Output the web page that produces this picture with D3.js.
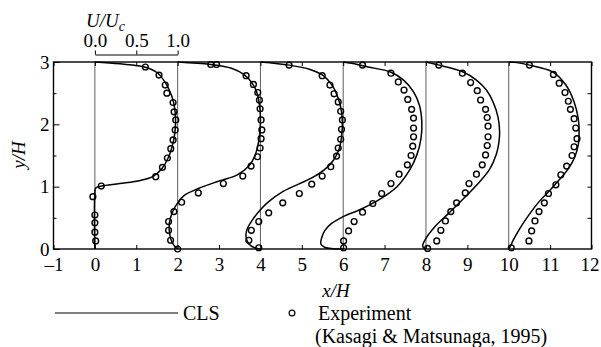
<!DOCTYPE html>
<html>
<head>
<meta charset="utf-8">
<script src="https://cdn.jsdelivr.net/npm/d3@7"></script>
<style>
  body { margin: 0; background: #fff; }
  svg, svg text { font-family: "Liberation Serif", "DejaVu Serif", serif; }
  svg { display: block; }
  .it { font-style: italic; }
</style>
</head>
<body>
<div id="chart"></div>
<script>
// stations along the channel (x/H); each profile is drawn as station + 2*U/Uc
var stations = [0, 2, 4, 6, 8, 10];

// tick labels
var xTickValues = [-1, 0, 1, 2, 3, 4, 5, 6, 7, 8, 9, 10, 11, 12];
var yTickValues = [0, 1, 2, 3];
var uTickValues = [0, 0.5, 1.0];

// CLS curves: [U/Uc, y/H]
var cls0 = [[0,3],[0.3,2.97],[0.6,2.92],[0.76,2.82],[0.86,2.65],[0.93,2.45],[0.965,2.25],[0.975,2.05],[0.965,1.85],[0.935,1.65],[0.885,1.46],[0.81,1.29],[0.71,1.17],[0.55,1.1],[0.3,1.05],[0.08,1.01],[0.01,0.98],[0,0.9],[0,0]];
var cls2 = [[0,3],[0.4,2.96],[0.65,2.9],[0.8,2.8],[0.9,2.66],[0.96,2.5],[0.99,2.3],[1.0,2.1],[0.995,1.9],[0.975,1.7],[0.935,1.5],[0.86,1.33],[0.72,1.19],[0.5,1.09],[0.25,0.97],[0.08,0.86],[0,0.74],[-0.06,0.6],[-0.1,0.42],[-0.1,0.28],[-0.08,0.15],[-0.04,0.05],[0,0]];
var cls4 = [[0,3],[0.35,2.95],[0.6,2.88],[0.76,2.78],[0.87,2.62],[0.94,2.42],[0.98,2.2],[0.99,2.0],[0.98,1.8],[0.95,1.6],[0.88,1.42],[0.77,1.27],[0.62,1.14],[0.46,1.04],[0.27,0.92],[0.1,0.76],[0,0.63],[-0.1,0.46],[-0.16,0.32],[-0.175,0.2],[-0.14,0.08],[-0.07,0.02],[0,0]];
var cls6 = [[0,3],[0.1,2.98],[0.3,2.92],[0.57,2.84],[0.73,2.71],[0.85,2.52],[0.92,2.31],[0.95,2.04],[0.94,1.77],[0.89,1.51],[0.8,1.26],[0.65,1.0],[0.42,0.78],[0.2,0.63],[0,0.52],[-0.14,0.41],[-0.22,0.3],[-0.26,0.18],[-0.27,0.08],[-0.22,0.025],[-0.12,0.005],[0,0]];
var cls8 = [[0,3],[0.16,2.95],[0.45,2.84],[0.61,2.71],[0.73,2.55],[0.81,2.36],[0.87,2.12],[0.89,1.88],[0.88,1.7],[0.85,1.52],[0.77,1.28],[0.63,1.05],[0.47,0.83],[0.28,0.58],[0.11,0.36],[0,0.17],[-0.04,0.05],[-0.02,0.01],[0,0]];
var cls10 = [[0,3],[0.1,2.99],[0.25,2.95],[0.53,2.84],[0.69,2.63],[0.79,2.36],[0.84,2.09],[0.85,1.88],[0.84,1.67],[0.79,1.45],[0.71,1.27],[0.61,1.11],[0.49,0.93],[0.38,0.78],[0.24,0.54],[0.13,0.32],[0.05,0.13],[0.02,0.04],[0,0]];

// experiment (Kasagi & Matsunaga, 1995): [U/Uc, y/H]
var exp0 = [[0.61,2.92],[0.775,2.79],[0.85,2.63],[0.87,2.5],[0.945,2.35],[0.957,2.2],[0.977,2.07],[0.97,1.91],[0.945,1.75],[0.917,1.61],[0.876,1.46],[0.816,1.31],[0.735,1.16],[0.077,1.01],[-0.024,0.84],[0,0.545],[0,0.42],[0,0.27],[0.01,0.13]];
var exp2 = [[0.40,2.96],[0.47,2.96],[0.827,2.78],[0.915,2.64],[0.968,2.51],[0.988,2.39],[0.996,2.25],[1.008,2.07],[1.017,1.91],[1.008,1.77],[0.996,1.62],[0.964,1.48],[0.887,1.33],[0.787,1.17],[0.552,1.05],[0.25,0.90],[0.048,0.75],[-0.045,0.60],[-0.11,0.44],[-0.11,0.30],[-0.085,0.14],[0,0]];
var exp4 = [[0.346,2.95],[0.746,2.78],[0.84,2.63],[0.89,2.49],[0.94,2.36],[0.97,2.21],[0.99,2.07],[0.98,1.92],[0.97,1.76],[0.94,1.62],[0.92,1.49],[0.85,1.32],[0.746,1.17],[0.62,1.04],[0.47,0.89],[0.27,0.74],[0.10,0.58],[-0.02,0.44],[-0.11,0.30],[-0.14,0.14],[-0.02,0.02]];
var exp6 = [[0.234,2.95],[0.577,2.82],[0.666,2.68],[0.735,2.55],[0.78,2.40],[0.827,2.24],[0.85,2.10],[0.85,1.94],[0.85,1.80],[0.84,1.65],[0.82,1.50],[0.775,1.35],[0.675,1.20],[0.577,1.05],[0.465,0.89],[0.358,0.73],[0.234,0.59],[0.132,0.44],[0.065,0.29],[0.005,0.13],[0.005,0.02]];
var exp8 = [[0.155,2.95],[0.44,2.82],[0.54,2.67],[0.62,2.54],[0.66,2.39],[0.72,2.24],[0.74,2.11],[0.75,1.97],[0.75,1.80],[0.74,1.66],[0.72,1.51],[0.68,1.35],[0.61,1.20],[0.52,1.05],[0.475,0.90],[0.37,0.74],[0.30,0.60],[0.235,0.45],[0.18,0.30],[0.13,0.13],[0.02,0.01]];
var exp10 = [[0.25,2.95],[0.54,2.80],[0.61,2.66],[0.68,2.51],[0.72,2.37],[0.745,2.24],[0.79,2.09],[0.81,1.94],[0.825,1.77],[0.79,1.64],[0.765,1.50],[0.70,1.33],[0.63,1.19],[0.57,1.03],[0.48,0.89],[0.43,0.74],[0.366,0.60],[0.317,0.45],[0.277,0.29],[0.244,0.13],[0.03,0.02]];

var clsCurves = [cls0, cls2, cls4, cls6, cls8, cls10];
var expPoints = [exp0, exp2, exp4, exp6, exp8, exp10];

var W = 601, H = 347;
var svg = d3.select("#chart").append("svg")
  .attr("width", W).attr("height", H);

var x = d3.scaleLinear().domain([-1, 12]).range([53.5, 591.5]);
var y = d3.scaleLinear().domain([0, 3]).range([249, 62]);

// velocity scale: U/Uc from 0 to 1 spans two x/H units
var u = d3.scaleLinear().domain([0, 1]).range([x(0), x(2)]);

var profiles = stations.map(function(s, i) {
  return {station: s, cls: clsCurves[i], exp: expPoints[i]};
});

// station reference lines
svg.append("g").selectAll("line")
  .data(stations)
  .enter().append("line")
  .attr("x1", function(d) { return x(d); })
  .attr("x2", function(d) { return x(d); })
  .attr("y1", y(0)).attr("y2", y(3))
  .attr("stroke", "#333")
  .attr("stroke-width", 0.8);

// CLS lines
var line = d3.line()
  .curve(d3.curveCatmullRom.alpha(0.5));

svg.append("g").selectAll("path")
  .data(profiles)
  .enter().append("path")
  .attr("d", function(p) {
    return line(p.cls.map(function(d) { return [x(p.station + 2 * d[0]), y(d[1])]; }));
  })
  .attr("fill", "none")
  .attr("stroke", "#000")
  .attr("stroke-width", 1.5);

// experiment circles
profiles.forEach(function(p) {
  svg.append("g").selectAll("circle")
    .data(p.exp)
    .enter().append("circle")
    .attr("cx", function(d) { return x(p.station + 2 * d[0]); })
    .attr("cy", function(d) { return y(d[1]); })
    .attr("r", 2.9)
    .attr("fill", "none")
    .attr("stroke", "#000")
    .attr("stroke-width", 1.4);
});

// frame
svg.append("rect")
  .attr("x", x(-1)).attr("y", y(3))
  .attr("width", x(12) - x(-1)).attr("height", y(0) - y(3))
  .attr("fill", "none").attr("stroke", "#000").attr("stroke-width", 1.4);

// axis text in serif, like the print
function serif(g) {
  g.attr("font-family", null).attr("font-size", null);
  g.selectAll("text").style("font-size", "19px").attr("fill", "#000");
}

// bottom axis, ticks inside
var xAxis = svg.append("g")
  .attr("transform", "translate(0," + y(0) + ")")
  .call(d3.axisBottom(x).tickValues(xTickValues).tickSize(-4).tickPadding(9)
    .tickFormat(function(d) { return d < 0 ? "\u2013" + (-d) : d; }))
  .call(serif);
xAxis.select(".domain").remove();
xAxis.selectAll("text").filter(function(d) { return d === 12; }).attr("dx", -2);

// top axis ticks only
var xTop = svg.append("g")
  .attr("transform", "translate(0," + y(3) + ")")
  .call(d3.axisTop(x).tickValues(xTickValues).tickSize(-4).tickFormat(""));
xTop.select(".domain").remove();

// left axis
var yAxis = svg.append("g")
  .attr("transform", "translate(" + x(-1) + ",0)")
  .call(d3.axisLeft(y).tickValues(yTickValues).tickSize(-6).tickPadding(4)
    .tickFormat(d3.format("d")))
  .call(serif);
yAxis.select(".domain").remove();

var yMinor = svg.append("g")
  .attr("transform", "translate(" + x(-1) + ",0)")
  .call(d3.axisLeft(y).tickValues([0.5, 1.5, 2.5]).tickSize(-3).tickFormat(""));
yMinor.select(".domain").remove();

// right axis ticks
var yRight = svg.append("g")
  .attr("transform", "translate(" + x(12) + ",0)")
  .call(d3.axisRight(y).tickValues([0.5, 1, 1.5, 2, 2.5]).tickSize(-4).tickFormat(""));
yRight.select(".domain").remove();

// velocity scale bar above the plot
var uAxis = svg.append("g")
  .attr("transform", "translate(0,54.5)")
  .call(d3.axisTop(u).tickValues(uTickValues).tickSize(4).tickSizeOuter(0)
    .tickPadding(4).tickFormat(d3.format(".1f")))
  .call(serif);
uAxis.select(".domain").attr("stroke-width", 1);

var uLabel = svg.append("text")
  .attr("x", 86).attr("y", 27)
  .attr("class", "it")
  .style("font-size", "19px");
uLabel.append("tspan").text("U/U");
uLabel.append("tspan").attr("dy", 4).style("font-size", "14px").text("c");

// axis titles
svg.append("text")
  .attr("class", "it")
  .attr("x", 336).attr("y", 297)
  .attr("text-anchor", "middle")
  .style("font-size", "19px")
  .text("x/H");

svg.append("text")
  .attr("class", "it")
  .attr("transform", "translate(25,155) rotate(-90)")
  .attr("text-anchor", "middle")
  .style("font-size", "19px")
  .text("y/H");

// legend
var legend = svg.append("g");
legend.append("line")
  .attr("x1", 55).attr("x2", 178)
  .attr("y1", 313).attr("y2", 313)
  .attr("stroke", "#000").attr("stroke-width", 1.2);
legend.append("text")
  .attr("x", 183).attr("y", 320)
  .style("font-size", "20px")
  .text("CLS");
legend.append("circle")
  .attr("cx", 292).attr("cy", 313).attr("r", 2.9)
  .attr("fill", "none").attr("stroke", "#000").attr("stroke-width", 1.2);
legend.append("text")
  .attr("x", 318).attr("y", 320)
  .style("font-size", "20px")
  .text("Experiment");
legend.append("text")
  .attr("x", 315).attr("y", 343)
  .style("font-size", "20px")
  .text("(Kasagi & Matsunaga, 1995)");
</script>
</body>
</html>
